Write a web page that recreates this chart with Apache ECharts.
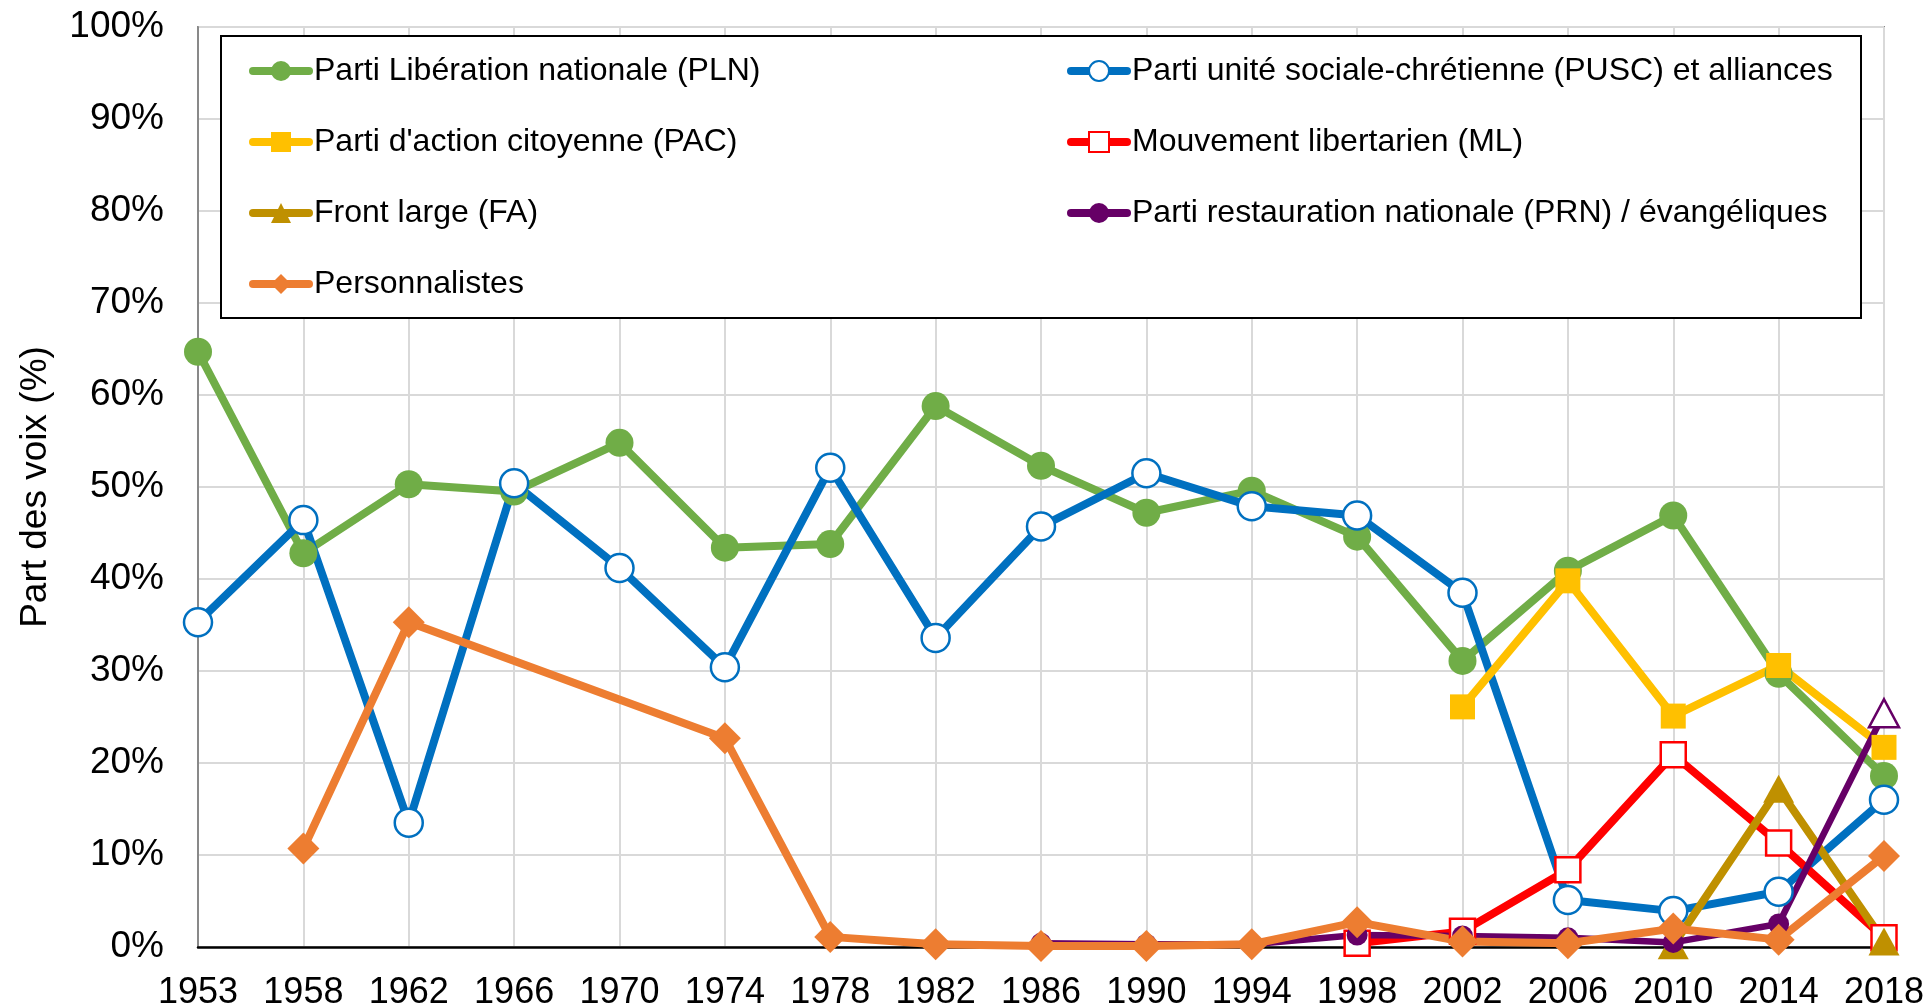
<!DOCTYPE html>
<html>
<head>
<meta charset="utf-8">
<script src="https://cdn.jsdelivr.net/npm/echarts@6/dist/echarts.min.js"></script>
<style>html,body{margin:0;padding:0;background:#fff;}#c{width:1932px;height:1008px;}</style>
</head>
<body>
<div id="c"></div>
<script>
var years = ['1953','1958','1962','1966','1970','1974','1978','1982','1986','1990','1994','1998','2002','2006','2010','2014','2018'];
var yTicks = [0,10,20,30,40,50,60,70,80,90,100];
var pln  = [64.7,42.8,50.3,49.5,54.8,43.4,43.8,58.8,52.3,47.2,49.6,44.6,31.1,40.9,46.9,29.7,18.6];
var pusc = [35.3,46.4,13.5,50.4,41.2,30.4,52.1,33.6,45.7,51.5,47.9,46.9,38.5,5.1,3.9,6.0,16.0];
var pac  = [null,null,null,null,null,null,null,null,null,null,null,null,26.1,39.8,25.1,30.6,21.7];
var ml   = [null,null,null,null,null,null,null,null,null,null,null,0.4,1.7,8.4,20.9,11.3,1.0];
var fa   = [null,null,null,null,null,null,null,null,null,null,null,null,null,null,0.2,17.2,0.6];
var prn  = [null,null,null,null,null,null,null,null,0.4,0.3,0.3,1.3,1.2,1.0,0.5,2.5,25.4];
var pers = [null,10.7,35.3,null,null,22.7,1.1,0.3,0.1,0.1,0.3,2.7,0.6,0.4,2.0,0.8,9.9];

var FONT = "'Liberation Sans', Arial, sans-serif";
var chart = echarts.init(document.getElementById('c'));

function mk(name, data, color, symbol, size, hollow, extra) {
  var s = {
    name: name, type: 'line', data: data,
    symbol: symbol, symbolSize: size,
    showAllSymbol: true,
    lineStyle: {color: color, width: 8},
    itemStyle: hollow ? {color: '#ffffff', borderColor: color, borderWidth: 2.5} : {color: color, borderWidth: 0},
    emphasis: {disabled: true},
    animation: false
  };
  if (extra) for (var k in extra) s[k] = extra[k];
  return s;
}

var prnData = prn.map(function (v, i) {
  if (i === prn.length - 1) {
    return {value: v, symbol: 'triangle', symbolSize: [30, 28],
      itemStyle: {color: '#ffffff', borderColor: '#660066', borderWidth: 2.5}};
  }
  return v;
});

var legendText = {fontFamily: FONT, fontSize: 32, color: '#000', lineHeight: 25};
var legendCommon = {
  orient: 'vertical', top: 55, z: 10, padding: 0,
  itemWidth: 56, itemHeight: 25, itemGap: 39,
  textStyle: legendText,
  lineStyle: {width: 8, cap: 'round'},
  selectedMode: false
};

chart.setOption({
  backgroundColor: '#ffffff',
  animation: false,
  textStyle: {fontFamily: FONT},
  grid: {left: 198, right: 48, top: 27, bottom: 61, show: true, borderColor: '#898989', borderWidth: 2,
    backgroundColor: 'transparent', containLabel: false, outerBoundsMode: 'none'},
  graphic: [{
    type: 'rect', z: 5,
    shape: {x: 221, y: 36, width: 1640, height: 282},
    style: {fill: '#ffffff', stroke: '#000000', lineWidth: 2}
  }],
  legend: [
    Object.assign({}, legendCommon, {left: 249,
      data: ['Parti Libération nationale (PLN)', "Parti d'action citoyenne (PAC)", 'Front large (FA)', 'Personnalistes']}),
    Object.assign({}, legendCommon, {left: 1067,
      data: ['Parti unité sociale-chrétienne (PUSC) et alliances', 'Mouvement libertarien (ML)', 'Parti restauration nationale (PRN) / évangéliques']})
  ],
  xAxis: {
    type: 'category', data: years, boundaryGap: false,
    axisLine: {show: true, lineStyle: {color: '#000', width: 2.5}},
    axisTick: {show: false},
    axisLabel: {fontFamily: FONT, fontSize: 36, color: '#000', margin: 28, interval: 0},
    splitLine: {show: true, lineStyle: {color: '#d9d9d9', width: 2}}
  },
  yAxis: {
    type: 'value', min: yTicks[0], max: yTicks[yTicks.length - 1], interval: 10,
    name: 'Part des voix (%)', nameLocation: 'middle', nameRotate: 90, nameGap: 144,
    nameTextStyle: {fontFamily: FONT, fontSize: 37, color: '#000'},
    axisLine: {show: true, lineStyle: {color: '#898989', width: 2}},
    axisTick: {show: false},
    axisLabel: {fontFamily: FONT, fontSize: 37, color: '#000', margin: 34, formatter: '{value}%'},
    splitLine: {show: true, lineStyle: {color: '#d9d9d9', width: 2}}
  },
  series: [
    mk('Parti Libération nationale (PLN)', pln, '#70ad47', 'circle', 28, false),
    mk('Parti unité sociale-chrétienne (PUSC) et alliances', pusc, '#0070c0', 'circle', 28, true),
    mk("Parti d'action citoyenne (PAC)", pac, '#ffc000', 'rect', 25, false),
    mk('Mouvement libertarien (ML)', ml, '#ff0000', 'rect', 25, true),
    mk('Front large (FA)', fa, '#bf9000', 'triangle', [31, 28], false),
    mk('Parti restauration nationale (PRN) / évangéliques', prnData, '#660066', 'circle', 21, false, {lineStyle: {color: '#660066', width: 6.5}}),
    mk('Personnalistes', pers, '#ed7d31', 'diamond', 32, false, {connectNulls: true})
  ]
});
</script>
</body>
</html>
